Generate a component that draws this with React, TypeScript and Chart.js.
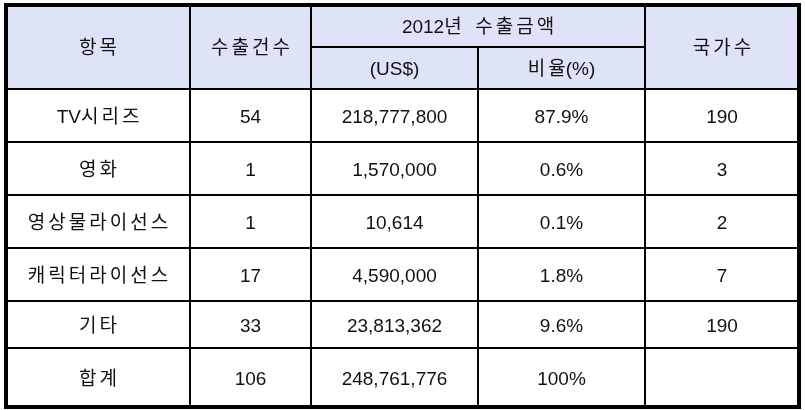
import React, { useEffect, useRef } from 'react';
import { Chart, registerables } from 'chart.js';

Chart.register(...registerables);

// ---- data ----
const categories = ['TV시리즈', '영화', '영상물라이선스', '캐릭터라이선스', '기타', '합계'];
const exportCounts = [54, 1, 1, 17, 33, 106];
const exportAmounts = [218777800, 1570000, 10614, 4590000, 23813362, 248761776];
const shares = [87.9, 0.6, 0.1, 1.8, 9.6, 100];
const countryCounts: (number | null)[] = [190, 3, 2, 7, 190, null];
const headerItem = '항목';
const headerCount = '수출건수';
const headerAmountGroup = '2012년  수출금액';
const headerAmount = '(US$)';
const headerShare = '비율(%)';
const headerCountries = '국가수';

// ---- layout (relative units, mapped through the chart's scales) ----
const COL_WIDTHS = [184, 121, 167, 167, 154];
const ROW_HEIGHTS = [42, 42, 53, 53, 53, 53, 47, 59];
const HEADER_BG = '#dee3f8';
const TEXT_COLOR = '#111111';
const FONT = '19px "Liberation Sans", "Noto Sans CJK KR", sans-serif';
const HANGUL_GAP = 3;

const cum = (arr: number[]) => {
  const out = [0];
  arr.forEach((v) => out.push(out[out.length - 1] + v));
  return out;
};

const isHangul = (ch: string) => /[\uac00-\ud7a3]/.test(ch);

const tablePlugin = {
  id: 'tablePlugin',
  afterDraw(chart: any) {
    const ctx: CanvasRenderingContext2D = chart.ctx;
    const xs = chart.scales.x;
    const ys = chart.scales.y;
    const cb = cum(COL_WIDTHS);
    const rb = cum(ROW_HEIGHTS);
    const X = (v: number) => xs.getPixelForValue(v);
    const Y = (v: number) => ys.getPixelForValue(v);
    const totalW = cb[cb.length - 1];
    const totalH = rb[rb.length - 1];

    ctx.save();
    ctx.fillStyle = HEADER_BG;
    ctx.fillRect(X(0), Y(0), X(totalW) - X(0), Y(rb[2]) - Y(0));

    ctx.strokeStyle = '#000';
    ctx.lineWidth = 2;
    ctx.beginPath();
    for (let i = 1; i < cb.length - 1; i++) {
      const startRow = i === 3 ? rb[1] : 0;
      ctx.moveTo(X(cb[i]), Y(startRow));
      ctx.lineTo(X(cb[i]), Y(totalH));
    }
    ctx.moveTo(X(cb[2]), Y(rb[1]));
    ctx.lineTo(X(cb[4]), Y(rb[1]));
    for (let r = 2; r < rb.length - 1; r++) {
      ctx.moveTo(X(0), Y(rb[r]));
      ctx.lineTo(X(totalW), Y(rb[r]));
    }
    ctx.stroke();

    ctx.lineWidth = 4;
    ctx.strokeRect(X(0), Y(0), X(totalW) - X(0), Y(totalH) - Y(0));

    ctx.fillStyle = TEXT_COLOR;
    ctx.font = FONT;
    ctx.textAlign = 'left';
    ctx.textBaseline = 'middle';

    const put = (s: string, c0: number, c1: number, r0: number, r1: number) => {
      const chars = Array.from(s);
      const widths = chars.map((ch) => ctx.measureText(ch).width);
      const gaps = chars.map((ch, k) =>
        k < chars.length - 1 && isHangul(ch) && (isHangul(chars[k + 1]) || chars[k + 1] === ' ') ? HANGUL_GAP : 0
      );
      const plain = !chars.some(isHangul);
      const total = plain ? ctx.measureText(s).width : widths.reduce((a, b) => a + b, 0) + gaps.reduce((a, b) => a + b, 0);
      const cx = (X(cb[c0]) + X(cb[c1])) / 2;
      const cy = (Y(rb[r0]) + Y(rb[r1])) / 2 + 2;
      let x = cx - total / 2;
      if (plain) {
        ctx.fillText(s, x, cy);
        return;
      }
      chars.forEach((ch, k) => {
        ctx.fillText(ch, x, cy);
        x += widths[k] + gaps[k];
      });
    };

    put(headerItem, 0, 1, 0, 2);
    put(headerCount, 1, 2, 0, 2);
    put(headerAmountGroup, 2, 4, 0, 1);
    put(headerAmount, 2, 3, 1, 2);
    put(headerShare, 3, 4, 1, 2);
    put(headerCountries, 4, 5, 0, 2);

    categories.forEach((cat, i) => {
      const r = i + 2;
      put(cat, 0, 1, r, r + 1);
      put(String(exportCounts[i]), 1, 2, r, r + 1);
      put(exportAmounts[i].toLocaleString('en-US'), 2, 3, r, r + 1);
      put(`${shares[i]}%`, 3, 4, r, r + 1);
      const cc = countryCounts[i];
      if (cc !== null) put(String(cc), 4, 5, r, r + 1);
    });
    ctx.restore();
  },
};

export default function App() {
  const ref = useRef<HTMLCanvasElement | null>(null);
  useEffect(() => {
    if (!ref.current) return;
    const totalW = COL_WIDTHS.reduce((a, b) => a + b, 0);
    const totalH = ROW_HEIGHTS.reduce((a, b) => a + b, 0);
    const chart = new Chart(ref.current, {
      type: 'scatter',
      data: { datasets: [] },
      options: {
        responsive: false,
        animation: false,
        devicePixelRatio: 1,
        layout: { padding: { left: 6, top: 5, right: 6, bottom: 3 } },
        plugins: { legend: { display: false }, tooltip: { enabled: false } },
        scales: {
          x: { type: 'linear', min: 0, max: totalW, display: false },
          y: { type: 'linear', min: 0, max: totalH, reverse: true, display: false },
        },
      },
      plugins: [tablePlugin],
    });
    return () => chart.destroy();
  }, []);
  return (
    <div style={{ position: 'fixed', left: 0, top: 0, width: 805, height: 410, background: '#fff' }}>
      <canvas ref={ref} width={805} height={410} style={{ display: 'block' }} />
    </div>
  );
}
